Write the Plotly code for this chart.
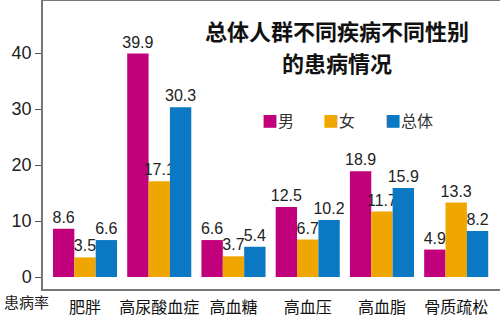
import plotly.graph_objects as go

categories = ["肥胖", "高尿酸血症", "高血糖", "高血压", "高血脂", "骨质疏松"]
male = [8.6, 39.9, 6.6, 12.5, 18.9, 4.9]
female = [3.5, 17.1, 3.7, 6.7, 11.7, 13.3]
total = [6.6, 30.3, 5.4, 10.2, 15.9, 8.2]
series_names = ["男", "女", "总体"]
colors = ["#C1007B", "#F0A600", "#0A78C2"]
y_ticks = [0, 10, 20, 30, 40]

W, H = 500, 328
ml, mr, mt, mb = 43, 0, 1, 39

fig = go.Figure()
for name, vals, c in zip(series_names, [male, female, total], colors):
    fig.add_trace(go.Bar(
        x=categories, y=vals, name=name, marker=dict(color=c, line=dict(width=0)),
        text=[f"{v:.1f}" for v in vals], textposition="outside", constraintext="none",
        textfont=dict(family="Liberation Sans, Arial", size=16, color="#222"),
        cliponaxis=False, showlegend=False,
    ))

def px_x(p):
    return (p - ml) / (W - ml - mr)

def px_y(p):
    return 1 - (p - mt) / (H - mt - mb)

annotations = [
    dict(text="<b>总体人群不同疾病不同性别</b>", x=px_x(337), y=px_y(30), xref="paper", yref="paper",
         showarrow=False, font=dict(family="Noto Sans CJK SC", size=22, color="#111"),
         xanchor="center", yanchor="middle"),
    dict(text="<b>的患病情况</b>", x=px_x(337), y=px_y(62.5), xref="paper", yref="paper",
         showarrow=False, font=dict(family="Noto Sans CJK SC", size=22, color="#111"),
         xanchor="center", yanchor="middle"),
    dict(text="患病率", x=px_x(26), y=px_y(301), xref="paper", yref="paper",
         showarrow=False, font=dict(family="Noto Sans CJK SC", size=15, color="#222"),
         xanchor="center", yanchor="middle"),
]
legend_x = [260, 321, 383]
for name, c, lx in zip(series_names, colors, legend_x):
    annotations.append(dict(
        text=f'<span style="color:{c}">■</span>{name}', x=px_x(lx), y=px_y(120),
        xref="paper", yref="paper", showarrow=False, xanchor="left", yanchor="middle",
        font=dict(family="Noto Sans CJK SC", size=16, color="#333")))

fig.update_layout(
    width=W, height=H,
    margin=dict(l=ml, r=mr, t=mt, b=mb),
    paper_bgcolor="white", plot_bgcolor="white",
    barmode="group", bargap=0.137, bargroupgap=0,
    showlegend=False,
    xaxis=dict(range=[-0.566, 5.59], showline=True, linecolor="#777", linewidth=1.5, mirror=True,
               ticks="", showgrid=False, zeroline=False, ticklabelstandoff=3,
               tickfont=dict(family="Noto Sans CJK SC", size=16, color="#111")),
    yaxis=dict(range=[-2.14, 49.29], showline=True, linecolor="#777", linewidth=1.5,
               ticks="outside", ticklen=6, tickcolor="#555", tickvals=y_ticks,
               showgrid=False, zeroline=False,
               tickfont=dict(family="Liberation Sans, Arial", size=18, color="#222")),
    annotations=annotations,
)

fig.write_html("out.html")
